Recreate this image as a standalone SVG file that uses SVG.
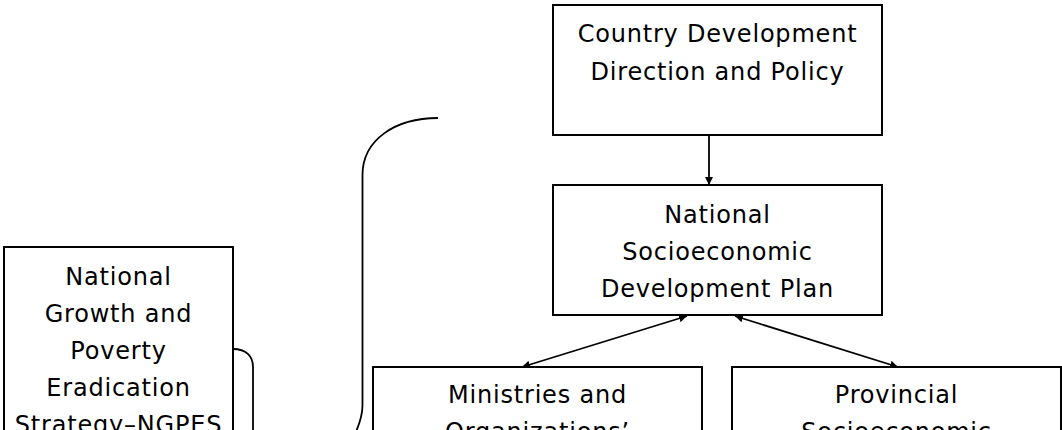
<svg xmlns="http://www.w3.org/2000/svg" width="1062" height="430" viewBox="0 0 1062 430">
<style>
.box{fill:#fff;stroke:#000;stroke-width:2}
.lbl{font-family:"DejaVu Sans","Verdana",sans-serif;font-size:24px;letter-spacing:0.8px;fill:#000;text-anchor:middle}
.con{fill:none;stroke:#000;stroke-width:1.8}
</style>
<defs>
<marker id="ah" viewBox="0 0 10 10" refX="10" refY="5" markerWidth="8" markerHeight="8" markerUnits="userSpaceOnUse" orient="auto-start-reverse">
<path d="M0,0 L10,5 L0,10 z" fill="#000"/>
</marker>
</defs>
<rect width="1062" height="430" fill="#fff"/>
<g id="connectors">
<line class="con" x1="709" y1="135" x2="709" y2="185" marker-end="url(#ah)"/>
<line class="con" x1="687" y1="316" x2="522" y2="367" marker-start="url(#ah)" marker-end="url(#ah)"/>
<line class="con" x1="735" y1="316" x2="898" y2="367" marker-start="url(#ah)" marker-end="url(#ah)"/>
<path class="con" d="M438,118 C395,118 362.5,140 362.5,175 L362.5,405 Q362.5,420 352,440"/>
<path class="con" d="M233,349 C246,349 253,356 253,367 L253,440"/>
</g>
<g id="node-country">
<rect class="box" x="553" y="5" width="329" height="130"/>
<text class="lbl" x="717.5" y="42">Country Development</text>
<text class="lbl" x="717.5" y="80">Direction and Policy</text>
</g>
<g id="node-nsedp">
<rect class="box" x="553" y="185" width="329" height="130"/>
<text class="lbl" x="717.5" y="223">National</text>
<text class="lbl" x="717.5" y="260">Socioeconomic</text>
<text class="lbl" x="717.5" y="297">Development Plan</text>
</g>
<g id="node-ngpes">
<rect class="box" x="4" y="247" width="229" height="200"/>
<text class="lbl" x="118.5" y="285">National</text>
<text class="lbl" x="118.5" y="322">Growth and</text>
<text class="lbl" x="118.5" y="359">Poverty</text>
<text class="lbl" x="118.5" y="396">Eradication</text>
<text class="lbl" x="118.5" y="433">Strategy–NGPES</text>
</g>
<g id="node-ministries">
<rect class="box" x="373" y="367" width="329" height="100"/>
<text class="lbl" x="537.5" y="403">Ministries and</text>
<text class="lbl" x="537.5" y="440">Organizations’</text>
</g>
<g id="node-provincial">
<rect class="box" x="732" y="367" width="329" height="100"/>
<text class="lbl" x="896.5" y="403">Provincial</text>
<text class="lbl" x="896.5" y="440">Socioeconomic</text>
</g>
</svg>
